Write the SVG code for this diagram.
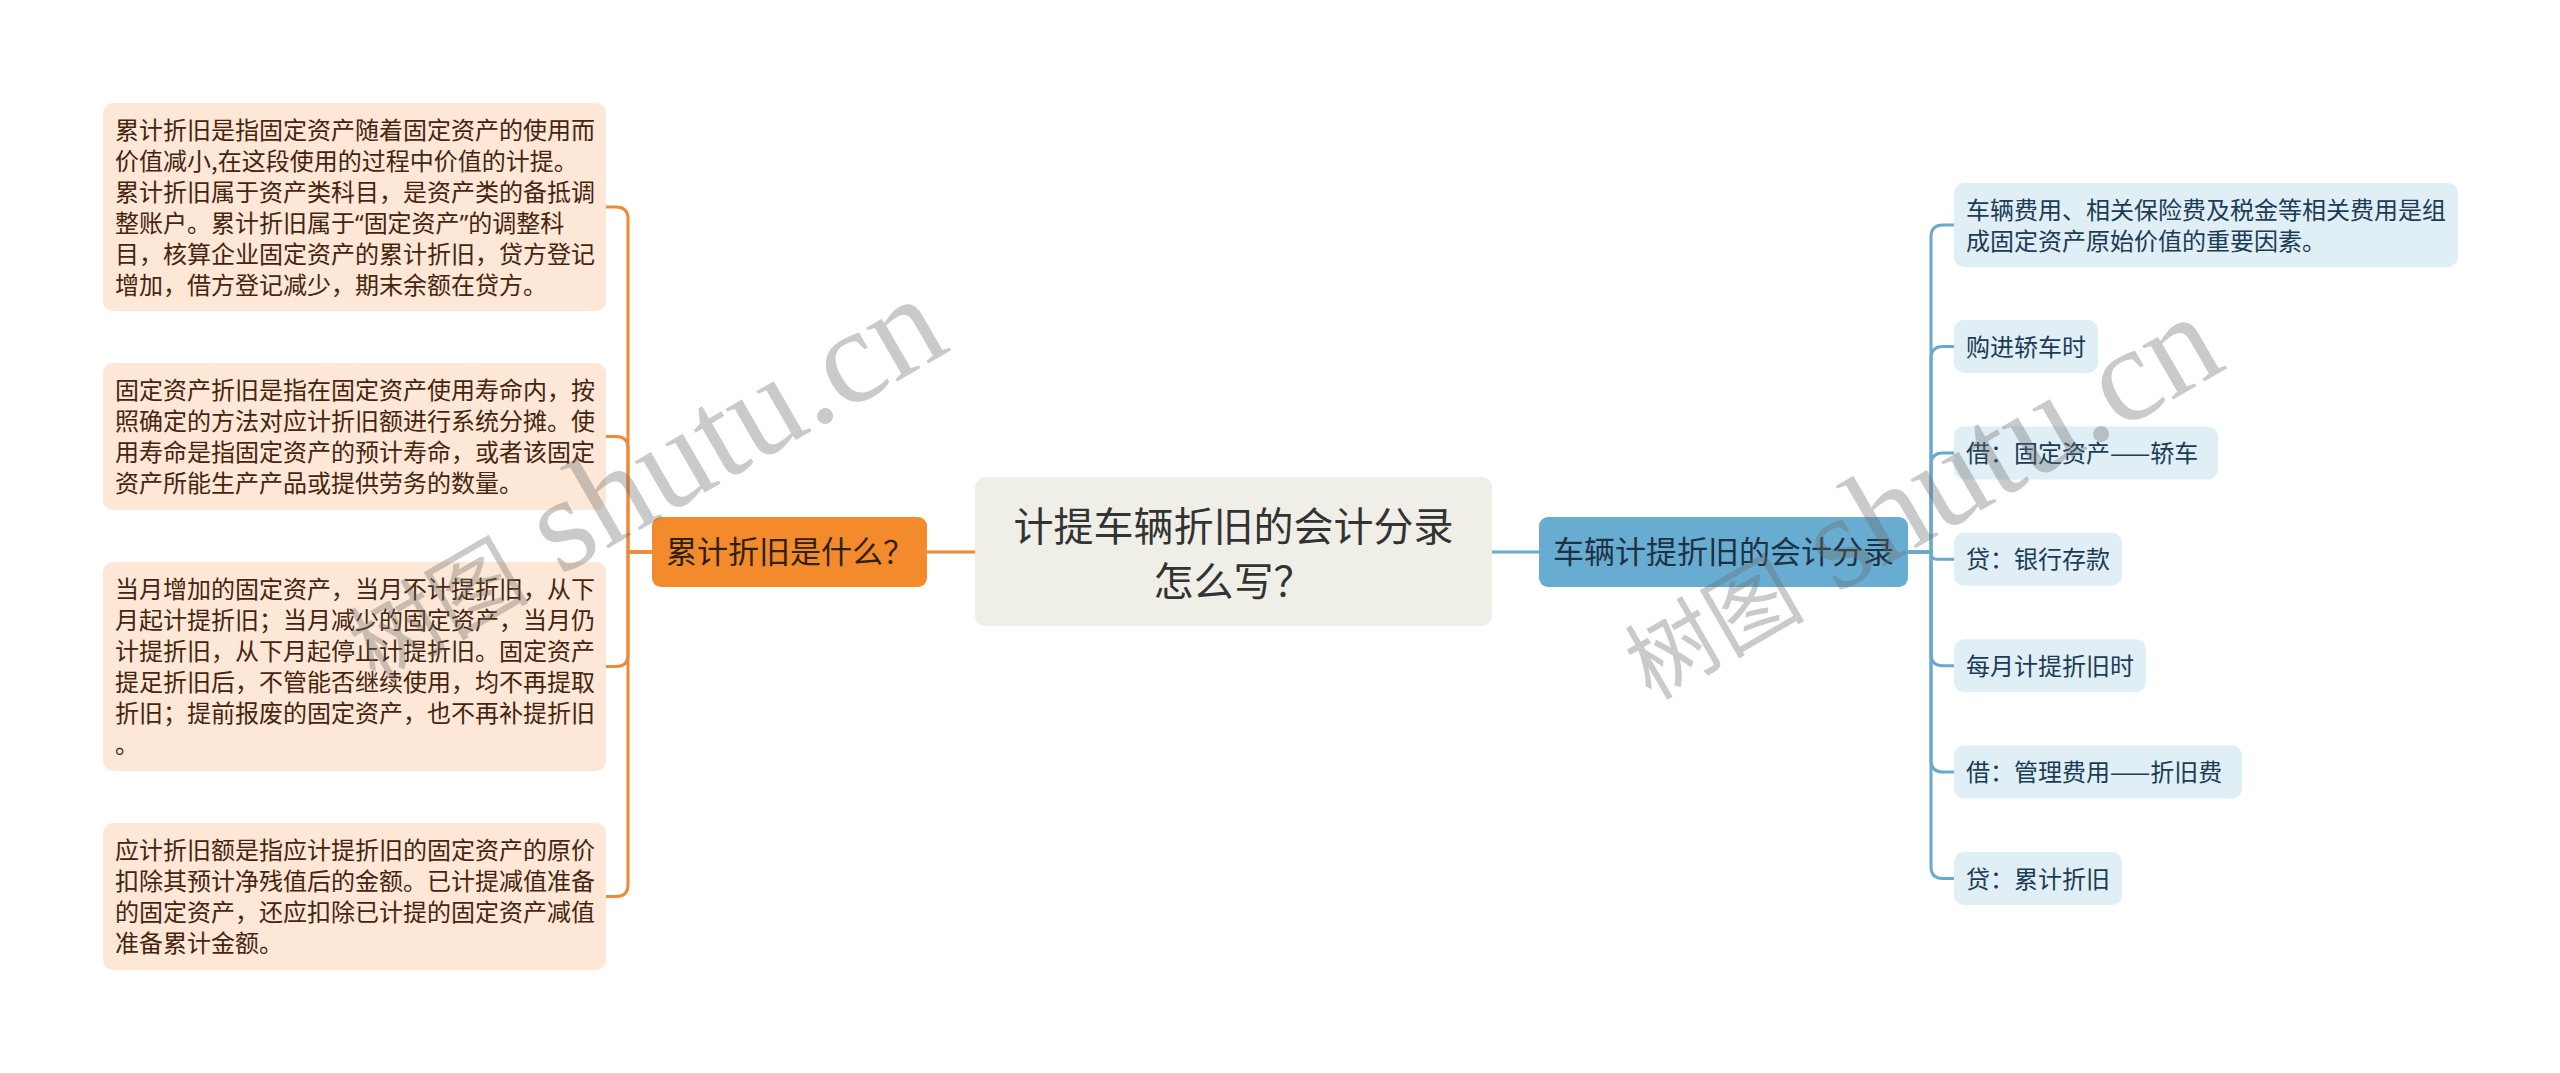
<svg xmlns="http://www.w3.org/2000/svg" width="2560" height="1073" viewBox="0 0 2560 1073">
<style>
text{font-family:"Noto Sans CJK SC","Noto Sans",sans-serif;}
.leafL rect{fill:#fde7d6;}
.leafL text{font-size:24px;fill:#46250e;}
.leafR rect{fill:#e0eef6;}
.leafR text{font-size:24px;fill:#1b3c54;}
.lineO{fill:none;stroke:#ee8a34;stroke-width:3;}
.lineB{fill:none;stroke:#6aa9cc;stroke-width:3;}
.wm text{fill:#6a6a6a;opacity:0.35;}
.q{font-family:"Noto Sans",sans-serif;}
</style>
<rect width="2560" height="1073" fill="#ffffff"/>
<g id="connectors">
<path class="lineO" d="M927 552 H975"/>
<path class="lineB" d="M1492 552 H1539"/>
<path class="lineO" d="M652 552 H628 V219 Q628 207 616 207 H606"/>
<path class="lineO" d="M652 552 H628 V448.5 Q628 436.5 616 436.5 H606"/>
<path class="lineO" d="M652 552 H628 V654.5 Q628 666.5 616 666.5 H606"/>
<path class="lineO" d="M652 552 H628 V884.5 Q628 896.5 616 896.5 H606"/>
<path class="lineB" d="M1908 552 H1931 V237 Q1931 225 1943 225 H1954"/>
<path class="lineB" d="M1908 552 H1931 V358.5 Q1931 346.5 1943 346.5 H1954"/>
<path class="lineB" d="M1908 552 H1931 V464.9 Q1931 452.9 1943 452.9 H1954"/>
<path class="lineB" d="M1908 552 H1931 V553.3 Q1931 559.3 1937 559.3 H1954"/>
<path class="lineB" d="M1908 552 H1931 V653.7 Q1931 665.7 1943 665.7 H1954"/>
<path class="lineB" d="M1908 552 H1931 V760.1 Q1931 772.1 1943 772.1 H1954"/>
<path class="lineB" d="M1908 552 H1931 V866.5 Q1931 878.5 1943 878.5 H1954"/>
</g>
<g id="root">
<rect x="975" y="477" width="517" height="149" rx="10" fill="#efefe7"/>
<text x="1233.5" y="541" font-size="40" fill="#333333" text-anchor="middle">计提车辆折旧的会计分录</text>
<text x="1233.5" y="596" font-size="40" fill="#333333" text-anchor="middle">怎么写？</text>
</g>
<g id="n-left">
<rect x="652" y="517" width="275" height="70" rx="9" fill="#f38b2c"/>
<text x="666" y="563" font-size="31" fill="#2e2214">累计折旧是什么？</text>
</g>
<g id="n-right">
<rect x="1539" y="517" width="369" height="70" rx="9" fill="#68acd1"/>
<text x="1553" y="563" font-size="31" fill="#1d3242">车辆计提折旧的会计分录</text>
</g>
<g id="l1" class="leafL">
<rect x="103" y="103" width="503" height="208" rx="10"/>
<text x="115" y="138.5">累计折旧是指固定资产随着固定资产的使用而</text>
<text x="115" y="169.5">价值减小,在这段使用的过程中价值的计提。</text>
<text x="115" y="200.5">累计折旧属于资产类科目，是资产类的备抵调</text>
<text x="115" y="231.5">整账户。累计折旧属于<tspan class="q">“</tspan>固定资产<tspan class="q">”</tspan>的调整科</text>
<text x="115" y="262.5">目，核算企业固定资产的累计折旧，贷方登记</text>
<text x="115" y="293.5">增加，借方登记减少，期末余额在贷方。</text>
</g>
<g id="l2" class="leafL">
<rect x="103" y="363" width="503" height="147" rx="10"/>
<text x="115" y="398.5">固定资产折旧是指在固定资产使用寿命内，按</text>
<text x="115" y="429.5">照确定的方法对应计折旧额进行系统分摊。使</text>
<text x="115" y="460.5">用寿命是指固定资产的预计寿命，或者该固定</text>
<text x="115" y="491.5">资产所能生产产品或提供劳务的数量。</text>
</g>
<g id="l3" class="leafL">
<rect x="103" y="562" width="503" height="209" rx="10"/>
<text x="115" y="597.5">当月增加的固定资产，当月不计提折旧，从下</text>
<text x="115" y="628.5">月起计提折旧；当月减少的固定资产，当月仍</text>
<text x="115" y="659.5">计提折旧，从下月起停止计提折旧。固定资产</text>
<text x="115" y="690.5">提足折旧后，不管能否继续使用，均不再提取</text>
<text x="115" y="721.5">折旧；提前报废的固定资产，也不再补提折旧</text>
<text x="115" y="752.5">。</text>
</g>
<g id="l4" class="leafL">
<rect x="103" y="823" width="503" height="147" rx="10"/>
<text x="115" y="858.5">应计折旧额是指应计提折旧的固定资产的原价</text>
<text x="115" y="889.5">扣除其预计净残值后的金额。已计提减值准备</text>
<text x="115" y="920.5">的固定资产，还应扣除已计提的固定资产减值</text>
<text x="115" y="951.5">准备累计金额。</text>
</g>
<g id="r1" class="leafR">
<rect x="1954" y="183" width="504" height="84" rx="10"/>
<text x="1966" y="218.5">车辆费用、相关保险费及税金等相关费用是组</text>
<text x="1966" y="249.5">成固定资产原始价值的重要因素。</text>
</g>
<g id="r2" class="leafR">
<rect x="1954" y="320" width="144" height="53" rx="10"/>
<text x="1966" y="355.5">购进轿车时</text>
</g>
<g id="r3" class="leafR">
<rect x="1954" y="426.4" width="264" height="53" rx="10"/>
<text x="1966" y="461.9">借：固定资产——轿车</text>
</g>
<g id="r4" class="leafR">
<rect x="1954" y="532.8" width="168" height="53" rx="10"/>
<text x="1966" y="568.3">贷：银行存款</text>
</g>
<g id="r5" class="leafR">
<rect x="1954" y="639.2" width="192" height="53" rx="10"/>
<text x="1966" y="674.7">每月计提折旧时</text>
</g>
<g id="r6" class="leafR">
<rect x="1954" y="745.6" width="288" height="53" rx="10"/>
<text x="1966" y="781.1">借：管理费用——折旧费</text>
</g>
<g id="r7" class="leafR">
<rect x="1954" y="852" width="168" height="53" rx="10"/>
<text x="1966" y="887.5">贷：累计折旧</text>
</g>
<g class="wm">
<text transform="translate(1651,701) rotate(-30)"><tspan font-size="90">树图</tspan><tspan font-family="Liberation Serif,serif" font-size="135"> shutu.cn</tspan></text>
<text transform="translate(375,683) rotate(-30)"><tspan font-size="90">树图</tspan><tspan font-family="Liberation Serif,serif" font-size="135"> shutu.cn</tspan></text>
</g>
</svg>
